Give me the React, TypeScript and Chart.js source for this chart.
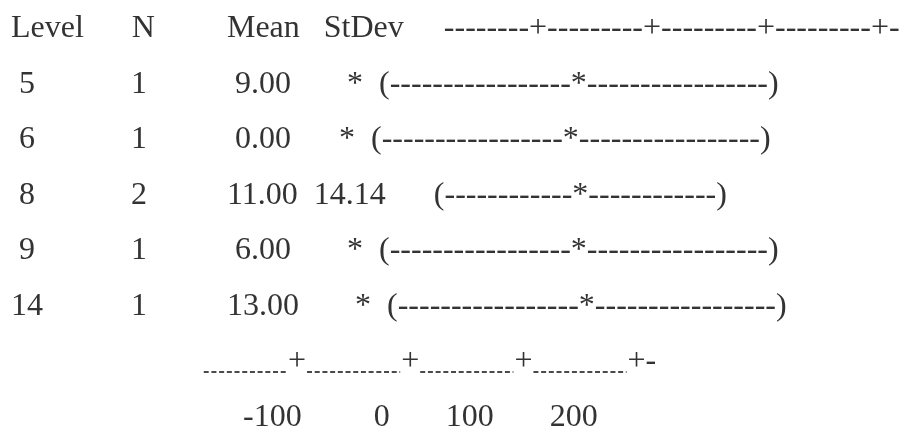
import React, { useEffect, useRef } from "react";
import { Chart, registerables } from "chart.js";

Chart.register(...registerables);

// ---------- data ----------
const headers = ["Level", "N", "Mean", "StDev"];
const levels = ["5", "6", "8", "9", "14"];
const counts = [1, 1, 2, 1, 1];
const means = [9.0, 0.0, 11.0, 6.0, 13.0];
const stdevs: (number | null)[] = [null, null, 14.14, null, null];
const ciLower = [-171, -180, -116, -174, -167];
const ciUpper = [189, 180, 138, 186, 193];
const axisTicks = [-100, 0, 100, 200];

// ---------- layout / style ----------
const FONT_SIZE = 32;
const FONT = `${FONT_SIZE}px "Liberation Serif", "Times New Roman", serif`;
const COLOR = "#333333";
const LEFT = 11;
const UNITS_PER_COLUMN = 10;
const headerGaps = [6, 9, 3, 5];
const rowGaps = [
  [1, 12, 11, 7, 2],
  [1, 12, 11, 6, 2],
  [1, 12, 10, 2, 6],
  [1, 12, 11, 7, 2],
  [0, 11, 10, 7, 2],
];
const labelLead = 29;

const sp = (n: number) => " ".repeat(Math.max(0, n));

function axisText(): string {
  return (
    axisTicks.map((_, i) => "-".repeat(i === 0 ? 8 : 9) + "+").join("") + "-"
  );
}

function intervalText(lo: number, m: number, hi: number): string {
  const a = Math.round(lo / UNITS_PER_COLUMN);
  const c = Math.round(m / UNITS_PER_COLUMN);
  const b = Math.round(hi / UNITS_PER_COLUMN);
  return "(" + "-".repeat(c - a - 1) + "*" + "-".repeat(b - c - 1) + ")";
}

function headerLine(): string {
  return (
    headers[0] +
    sp(headerGaps[0]) +
    headers[1] +
    sp(headerGaps[1]) +
    headers[2] +
    sp(headerGaps[2]) +
    headers[3] +
    sp(headerGaps[3]) +
    axisText()
  );
}

function rowLine(i: number): string {
  const g = rowGaps[i];
  const sd = stdevs[i] === null ? "*" : (stdevs[i] as number).toFixed(2);
  return (
    sp(g[0]) +
    levels[i] +
    sp(g[1]) +
    String(counts[i]) +
    sp(g[2]) +
    means[i].toFixed(2) +
    sp(g[3]) +
    sd +
    sp(g[4]) +
    intervalText(ciLower[i], means[i], ciUpper[i])
  );
}

function labelLine(): string {
  return (
    sp(labelLead) +
    axisTicks
      .map((t, i) => String(t).padStart(i === 0 ? String(t).length : 10, " "))
      .join("")
  );
}

const textPlugin = {
  id: "minitabText",
  afterDraw(chart: any) {
    const ctx = chart.ctx as CanvasRenderingContext2D;
    const xs = chart.scales.x;
    const ys = chart.scales.y;
    ctx.save();
    ctx.font = FONT;
    ctx.fillStyle = COLOR;
    ctx.textBaseline = "alphabetic";
    ctx.textAlign = "left";

    ctx.fillText(headerLine(), LEFT, ys.getPixelForValue(0));
    levels.forEach((_, i) => {
      ctx.fillText(rowLine(i), LEFT, ys.getPixelForValue(i + 1));
    });

    // bottom axis with dotted segments
    const axisY = ys.getPixelForValue(levels.length + 1);
    const plusW = ctx.measureText("+").width;
    const lead = ctx.measureText("-".repeat(8)).width;
    const px = axisTicks.map((t) => xs.getPixelForValue(t));
    const segs: [number, number][] = [];
    segs.push([px[0] - plusW / 2 - lead, px[0] - plusW / 2]);
    for (let i = 0; i < px.length - 1; i++) {
      segs.push([px[i] + plusW / 2, px[i + 1] - plusW / 2]);
    }
    const lineY = Math.round(axisY + 2);
    ctx.strokeStyle = "#4a4a4a";
    ctx.lineWidth = 2;
    ctx.setLineDash([5, 2.7]);
    segs.forEach(([a, b]) => {
      ctx.beginPath();
      ctx.moveTo(a + 1, lineY);
      ctx.lineTo(b - 1, lineY);
      ctx.stroke();
    });
    ctx.setLineDash([]);
    ctx.textAlign = "center";
    px.forEach((p) => ctx.fillText("+", p, axisY));
    ctx.textAlign = "left";
    ctx.fillText("-", px[px.length - 1] + plusW / 2, axisY);

    ctx.fillText(labelLine(), LEFT, ys.getPixelForValue(levels.length + 2));
    ctx.restore();
  },
};

export default function App() {
  const ref = useRef<HTMLCanvasElement | null>(null);
  useEffect(() => {
    if (!ref.current) return;
    const chart = new Chart(ref.current, {
      type: "scatter",
      data: { datasets: [{ data: [] }] },
      options: {
        responsive: false,
        animation: false,
        layout: { padding: 0 },
        plugins: { legend: { display: false }, tooltip: { enabled: false } },
        scales: {
          x: { type: "linear", display: false, min: -362.37, max: 436.22 },
          y: {
            type: "linear",
            display: false,
            reverse: true,
            min: -37 / 55.5,
            max: (426 - 37) / 55.5,
          },
        },
      },
      plugins: [textPlugin],
    });
    return () => chart.destroy();
  }, []);
  return (
    <div
      style={{
        position: "absolute",
        left: 0,
        top: 0,
        width: 904,
        height: 426,
        background: "#ffffff",
      }}
    >
      <canvas ref={ref} width={904} height={426} style={{ display: "block" }} />
    </div>
  );
}
